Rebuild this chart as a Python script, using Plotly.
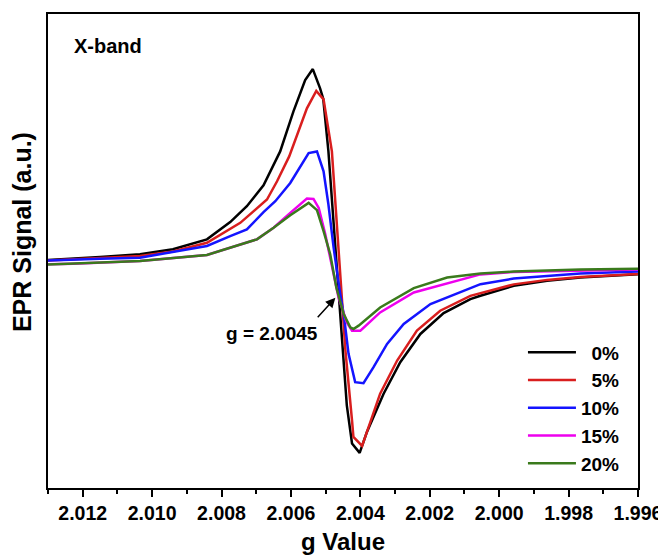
import plotly.graph_objects as go

# ---- data (g value, EPR signal in a.u.) ----
g_0 = [2.0130, 2.01227, 2.0115, 2.01035, 2.00940, 2.00842, 2.00775, 2.00727, 2.00679,
       2.00631, 2.00593, 2.00559, 2.00537, 2.00516, 2.00507, 2.00492, 2.00472, 2.00453,
       2.00439, 2.00424, 2.00402, 2.00381, 2.00333, 2.00285, 2.00227, 2.00160, 2.00083,
       2.00054, 1.99958, 1.99862, 1.99766, 1.9960]
s_0 = [9, 10.3, 12, 14.7, 19.7, 29.7, 47, 63, 84,
       118, 158, 189.7, 200.7, 181.3, 171, 118, 23, -72,
       -137, -175.3, -184.7, -163.7, -125.3, -93.7, -65.3, -44.3, -30.3,
       -27, -17, -12, -8.7, -5.3]

g_5 = [2.0130, 2.01227, 2.0115, 2.01035, 2.00940, 2.00842, 2.00746, 2.00669, 2.00640,
       2.00605, 2.00554, 2.00527, 2.00506, 2.00482, 2.00472, 2.00463, 2.00453, 2.00443,
       2.00424, 2.00420, 2.00395, 2.00343, 2.00294, 2.00237, 2.00170, 2.00083, 1.99958,
       1.99862, 1.99766, 1.9960]
s_5 = [8.5, 9.5, 11, 13, 17.5, 26.3, 46.3, 69.7, 88,
       113, 161.3, 178.7, 170.3, 118, 68, 18, -32, -82,
       -152, -168.7, -177.7, -125.3, -92, -62, -42, -27, -15.5,
       -11, -8, -5]

g_10 = [2.0130, 2.01227, 2.0115, 2.01035, 2.00842, 2.00775, 2.00727, 2.00679, 2.00645,
        2.00602, 2.00549, 2.00525, 2.00506, 2.00492, 2.00477, 2.00458, 2.00448, 2.00434,
        2.00415, 2.00391, 2.00362, 2.00323, 2.00275, 2.00198, 2.00083, 2.00054, 1.99958,
        1.99766, 1.9960]
s_10 = [8.5, 9.5, 10.3, 11.3, 23, 33, 39.7, 57, 68,
        86.3, 116.3, 118, 98, 64.7, 21.3, -25.3, -45.3, -85.3,
        -113.7, -114.7, -98.7, -75.3, -55.3, -35.3, -19.3, -15.3, -9.7,
        -4.7, -2.7]

g_15 = [2.0130, 2.01227, 2.01035, 2.00842, 2.00698, 2.00650, 2.00602, 2.00554, 2.00535,
        2.00520, 2.00501, 2.00482, 2.00467, 2.00463, 2.00439, 2.00424, 2.00400, 2.00343,
        2.00246, 2.00121, 2.00054, 1.99958, 1.99766, 1.9960]
s_15 = [4.7, 5.3, 8, 14, 29.7, 41.3, 56.3, 70.7, 70.3,
        61.3, 34.7, 1.3, -25.3, -28.7, -53.7, -62, -62, -43.7,
        -23.7, -12, -5.5, -3, -1.3, -0.5]

g_20 = [2.0130, 2.01227, 2.01035, 2.00842, 2.00698, 2.00650, 2.00602, 2.00549, 2.00525,
        2.00506, 2.00487, 2.00469, 2.00448, 2.00429, 2.00420, 2.00405, 2.00343, 2.00246,
        2.00150, 2.00054, 1.99958, 1.99766, 1.9960]
s_20 = [4.5, 5.3, 8, 14, 29.7, 41.3, 54, 66.3, 59,
        38, 15, -19, -45.3, -58.7, -60.3, -57, -38.7, -19.3,
        -8.7, -4.7, -2.7, -0.7, 0.3]

series_names = ["\u20070%", "\u20075%", "10%", "15%", "20%"]
series_g = [g_0, g_5, g_10, g_15, g_20]
series_s = [s_0, s_5, s_10, s_15, s_20]
colors = ["#000000", "#d91e1e", "#1414ff", "#ee00ee", "#3a7a1c"]

tick_vals = [2.012, 2.010, 2.008, 2.006, 2.004, 2.002, 2.000, 1.998, 1.996]
tick_text = ["2.012", "2.010", "2.008", "2.006", "2.004", "2.002", "2.000", "1.998", "1.996"]

FONT = "Liberation Sans, Arial, sans-serif"

fig = go.Figure()
for name, gx, sy, c in zip(series_names, series_g, series_s, colors):
    fig.add_trace(go.Scatter(x=gx, y=sy, mode="lines", name=name,
                             line=dict(color=c, width=2.5)))

# the page body has an 8px margin, so the margins are reduced by 8px on the left/top
fig.update_layout(
    width=666, height=556,
    margin=dict(l=40, r=36, t=4, b=76),
    paper_bgcolor="white", plot_bgcolor="white",
    showlegend=True,
    legend=dict(x=0.805, y=0.326, xanchor="left", yanchor="top",
                bgcolor="rgba(0,0,0,0)", borderwidth=0,
                itemwidth=48,
                font=dict(family=FONT, size=19, color="black", weight="bold")),
    xaxis=dict(range=[2.013, 1.996], tickvals=tick_vals, ticktext=tick_text,
               ticks="outside", ticklen=7, tickwidth=2, tickcolor="black",
               minor=dict(dtick=0.001, tick0=1.996, ticks="outside", ticklen=4,
                          tickwidth=2, tickcolor="black"),
               showline=True, linewidth=2, linecolor="black", mirror=True,
               showgrid=False, zeroline=False,
               tickfont=dict(family=FONT, size=19.5, color="black", weight="bold")),
    yaxis=dict(range=[-220, 256], showticklabels=False, ticks="",
               showline=True, linewidth=2, linecolor="black", mirror=True,
               showgrid=False, zeroline=False),
)

fig.add_annotation(text="X-band", xref="paper", yref="paper", x=0.04, y=0.933,
                   xanchor="left", yanchor="middle", showarrow=False,
                   font=dict(family=FONT, size=20, color="black", weight="bold"))
fig.add_annotation(text="g Value", xref="paper", yref="paper", x=0.5, y=-0.113,
                   xanchor="center", yanchor="middle", showarrow=False,
                   font=dict(family=FONT, size=24, color="black", weight="bold"))
fig.add_annotation(text="EPR Signal (a.u.)", xref="paper", yref="paper", x=-0.044, y=0.54,
                   xanchor="center", yanchor="middle", textangle=-90, showarrow=False,
                   font=dict(family=FONT, size=25, color="black", weight="bold"))
# marker text and arrow
fig.add_annotation(text="g = 2.0045", xref="x", yref="y", x=2.00654, y=-65,
                   xanchor="center", yanchor="middle", showarrow=False,
                   font=dict(family=FONT, size=19, color="black", weight="bold"))
fig.add_annotation(text="", xref="x", yref="y", x=2.00472, y=-29,
                   ax=-19, ay=21, showarrow=True, arrowhead=2, arrowsize=1.3,
                   arrowwidth=1.5, arrowcolor="black")

fig.write_html("out.html")
